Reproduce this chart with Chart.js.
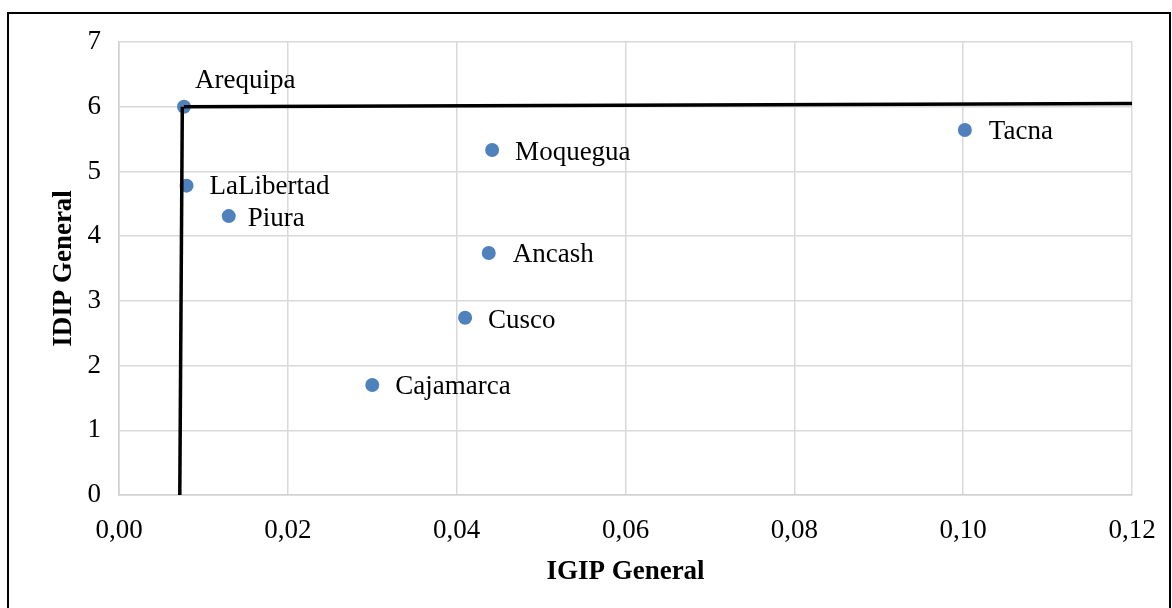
<!DOCTYPE html>
<html lang="es">
<head>
    <meta charset="UTF-8">
    <title>IGIP vs IDIP General</title>
    <script src="https://cdn.jsdelivr.net/npm/chart.js"></script>
    <style>
        html, body {
            margin: 0;
            padding: 0;
            background: #fff;
            width: 1172px;
            height: 608px;
            overflow: hidden;
        }
        .marco {
            position: absolute;
            left: 7px;
            top: 12px;
            width: 1164px;
            height: 620px;
            border: 2px solid #000;
            box-sizing: border-box;
        }
        .contenedor {
            position: absolute;
            left: 0;
            top: 0;
            width: 1172px;
            height: 608px;
        }
    </style>
</head>
<body>

<div class="marco"></div>
<div class="contenedor">
    <canvas id="grafico"></canvas>
</div>

<script>
    // Regiones y valores (IGIP, IDIP)
    const regiones = ['Arequipa', 'LaLibertad', 'Piura', 'Moquegua', 'Tacna', 'Ancash', 'Cusco', 'Cajamarca'];
    const igip = [0.0077, 0.0080, 0.0130, 0.0442, 0.1002, 0.0438, 0.0410, 0.0300];
    const idip = [6.00, 4.78, 4.31, 5.33, 5.64, 3.74, 2.74, 1.70];

    // Lineas de referencia
    const lineaVertX = [0.0072, 0.0075];
    const lineaVertY = [0, 6];
    const lineaHorX = [0.0077, 0.12];
    const lineaHorY = [6.00, 6.05];

    // Desplazamiento de etiquetas (Arequipa va arriba)
    const etiquetaDx = [11, 23, 19, 23, 24, 24, 23, 23];
    const etiquetaDy = [-26, 1, 3, 3, 2, 2, 3, 2];

    const fuente = "'Liberation Serif', 'Times New Roman', serif";

    function aPares(xs, ys) {
        return xs.map((x, i) => ({ x: x, y: ys[i] }));
    }

    const etiquetas = {
        id: 'etiquetas',
        afterDatasetsDraw(chart) {
            const meta = chart.getDatasetMeta(2);
            const ctx = chart.ctx;
            ctx.save();
            ctx.font = '27px ' + fuente;
            ctx.fillStyle = '#000';
            ctx.textAlign = 'left';
            ctx.textBaseline = 'middle';
            meta.data.forEach((p, i) => {
                ctx.fillText(regiones[i], p.x + etiquetaDx[i], p.y + etiquetaDy[i]);
            });
            ctx.restore();
        }
    };

    const ctx = document.getElementById('grafico').getContext('2d');
    new Chart(ctx, {
        type: 'scatter',
        data: {
            datasets: [{
                label: 'vertical',
                data: aPares(lineaVertX, lineaVertY),
                showLine: true,
                borderColor: '#000',
                borderWidth: 3.5,
                pointRadius: 0
            }, {
                label: 'horizontal',
                data: aPares(lineaHorX, lineaHorY),
                showLine: true,
                borderColor: '#000',
                borderWidth: 3.5,
                pointRadius: 0
            }, {
                label: 'regiones',
                data: aPares(igip, idip),
                backgroundColor: '#4F81BD',
                borderColor: '#4F81BD',
                pointRadius: 7,
                borderWidth: 0
            }]
        },
        options: {
            responsive: true,
            maintainAspectRatio: false,
            animation: false,
            layout: {
                padding: { top: 42, right: 40, bottom: 0, left: 0 }
            },
            scales: {
                x: {
                    type: 'linear',
                    min: 0,
                    max: 0.12,
                    afterFit: s => { s.height = 113; s.paddingRight = 0; s.paddingLeft = 0; },
                    ticks: {
                        stepSize: 0.02,
                        padding: 20,
                        color: '#000',
                        font: { family: fuente, size: 27 },
                        callback: v => v.toFixed(2).replace('.', ',')
                    },
                    grid: { color: '#d9d9d9', lineWidth: 1.5, drawTicks: false },
                    border: { color: '#d0d0d0', width: 1.5 },
                    title: {
                        display: true,
                        text: 'IGIP General',
                        color: '#000',
                        padding: 20,
                        font: { family: fuente, size: 27, weight: 'bold' }
                    }
                },
                y: {
                    min: 0,
                    max: 7,
                    afterFit: s => { s.width = 119; },
                    ticks: {
                        stepSize: 1,
                        padding: 18,
                        color: '#000',
                        font: { family: fuente, size: 27 }
                    },
                    grid: { color: '#d9d9d9', lineWidth: 1.5, drawTicks: false },
                    border: { color: '#d0d0d0', width: 1.5 },
                    title: {
                        display: true,
                        text: 'IDIP General',
                        color: '#000',
                        padding: 48,
                        font: { family: fuente, size: 27, weight: 'bold' }
                    }
                }
            },
            plugins: {
                legend: { display: false },
                tooltip: { enabled: false }
            }
        },
        plugins: [etiquetas]
    });
</script>

</body>
</html>
